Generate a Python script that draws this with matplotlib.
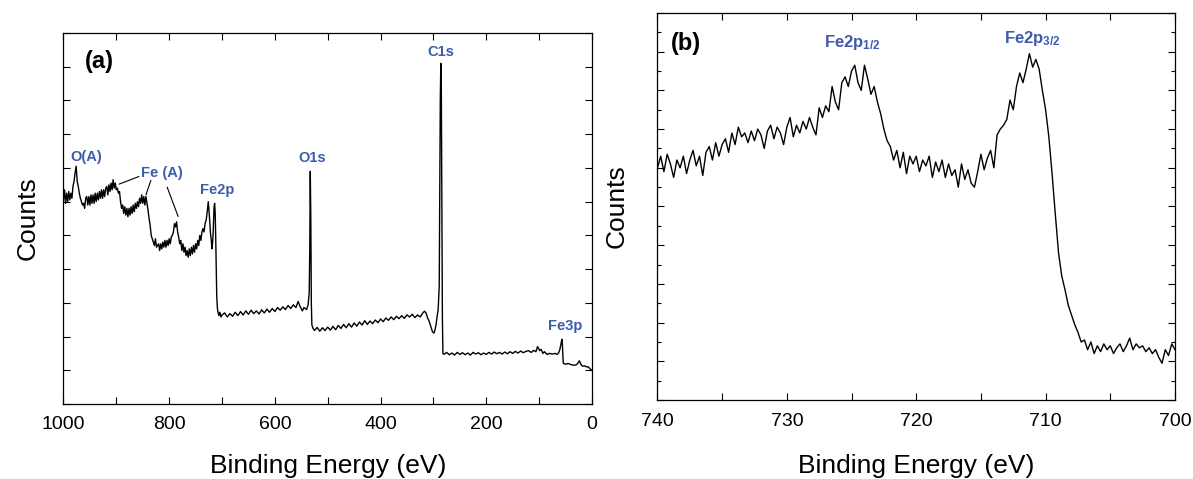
import numpy as np
import matplotlib
matplotlib.use("Agg")
import matplotlib.pyplot as plt
from matplotlib.ticker import MultipleLocator, FuncFormatter

plt.rcParams['font.family'] = ['Liberation Sans', 'DejaVu Sans']
plt.rcParams['mathtext.fontset'] = 'custom'
plt.rcParams['mathtext.rm'] = 'Liberation Sans'
plt.rcParams['mathtext.bf'] = 'Liberation Sans:bold'

# ---------------- Panel (a): survey spectrum ----------------
survey_energy = [
    1000, 998, 996, 994, 992, 990, 988, 986, 984, 982, 980, 978, 976, 974, 972, 970,
    968, 966, 964, 962, 960, 958, 956, 954, 952, 950, 948, 946, 944, 942, 940, 938,
    936, 934, 932, 930, 928, 926, 924, 922, 920, 918, 916, 914, 912, 910, 908, 906,
    904, 902, 900, 898, 896, 894, 892, 890, 888, 886, 884, 882, 880, 878, 876, 874,
    872, 870, 868, 866, 864, 862, 860, 858, 856, 854, 852, 850, 848, 846, 844, 842,
    840, 838, 836, 834, 832, 830, 828, 826, 824, 822, 820, 818, 816, 814, 812, 810,
    808, 806, 804, 802, 800, 798, 796, 794, 792, 790, 788, 786, 784, 782, 780, 778,
    776, 774, 772, 770, 768, 766, 764, 762, 760, 758, 756, 754, 752, 750, 748, 746,
    744, 742, 740, 738, 736, 734, 732, 730, 728, 726, 725, 724, 723, 722, 720, 719,
    718, 717, 716, 715, 714, 713, 712, 711, 710, 709, 708, 706, 704, 702,
    700, 695, 690, 685, 680, 675, 670, 665, 660, 655, 650, 645, 640, 635, 630, 625,
    620, 615, 610, 605, 600, 595, 590, 585, 580, 575, 570, 565, 560, 556, 552, 548,
    545, 540, 537, 535, 534, 533, 532, 531, 530, 528,
    525, 520, 515, 510, 505, 500, 495, 490, 485, 480, 475, 470, 465, 460, 455, 450,
    445, 440, 435, 430, 425, 420, 415, 410, 405, 400, 395, 390, 385, 380, 375, 370,
    365, 360, 355, 350, 345, 340, 335, 330, 325, 320, 317, 314, 311, 308, 305, 302,
    299, 297, 295, 293, 291, 289, 288, 287, 286, 285, 284, 283, 282,
    280, 275, 270, 265, 260, 255, 250, 245, 240, 235, 230, 225, 220, 215, 210, 205,
    200, 195, 190, 185, 180, 175, 170, 165, 160, 155, 150, 145, 140, 135, 130, 125,
    120, 115, 110, 106, 103, 101, 99, 96, 93, 90, 85, 80, 75, 70, 66, 63,
    61, 59, 57, 56, 55, 54, 50, 45, 40, 35, 30, 27, 24, 22, 20, 17,
    14, 10, 7, 4, 2, 0,
]
survey_counts = [
    6.05, 6.35, 5.95, 6.25, 6.00, 6.30, 6.05, 6.25, 6.10, 6.45, 6.60, 6.85, 7.05, 6.60, 6.45, 6.25,
    6.10, 6.00, 5.90, 5.95, 5.80, 6.10, 6.15, 5.90, 6.15, 5.90, 6.20, 5.95, 6.20, 5.95, 6.25, 6.00,
    6.25, 6.05, 6.30, 6.10, 6.35, 6.10, 6.35, 6.15, 6.40, 6.45, 6.20, 6.50, 6.30, 6.55, 6.35, 6.65,
    6.40, 6.55, 6.35, 6.40, 6.25, 6.30, 6.00, 5.80, 5.90, 5.65, 5.85, 5.60, 5.80, 5.55, 5.80, 5.60,
    5.85, 5.65, 5.90, 5.70, 5.95, 5.80, 6.00, 5.85, 6.10, 5.95, 6.20, 5.95, 6.15, 5.90, 6.15, 5.95,
    5.75, 5.50, 5.30, 5.00, 4.90, 4.80, 4.70, 4.90, 4.65, 4.70, 4.75, 4.55, 4.75, 4.60, 4.80, 4.65,
    4.85, 4.65, 4.85, 4.70, 4.90, 4.75, 4.95, 5.00, 5.10, 5.35, 5.25, 5.40, 5.10, 4.95, 4.75, 4.85,
    4.55, 4.75, 4.50, 4.65, 4.40, 4.55, 4.35, 4.60, 4.40, 4.65, 4.45, 4.70, 4.50, 4.75, 4.60, 4.85,
    4.70, 5.00, 4.85, 5.10, 5.20, 5.10, 5.35, 5.45, 5.70, 6.00, 5.80, 5.60, 5.35, 5.10, 4.80, 4.60,
    4.75, 5.00, 5.40, 5.85, 5.95, 5.70, 5.00, 4.00, 3.20, 2.90, 2.75, 2.62, 2.72, 2.58,
    2.64, 2.70, 2.58, 2.68, 2.60, 2.72, 2.62, 2.74, 2.64, 2.76, 2.66, 2.78, 2.68, 2.76, 2.67, 2.79,
    2.70, 2.81, 2.72, 2.83, 2.74, 2.86, 2.78, 2.88, 2.80, 2.92, 2.83, 2.94, 2.86, 3.04, 2.88, 2.76,
    2.86, 2.80, 2.95, 3.30, 4.50, 6.90, 5.50, 3.00, 2.35, 2.25,
    2.18, 2.27, 2.16, 2.26, 2.18, 2.28, 2.19, 2.30, 2.20, 2.33, 2.24, 2.36, 2.26, 2.38, 2.28, 2.40,
    2.31, 2.43, 2.34, 2.47, 2.36, 2.46, 2.38, 2.49, 2.41, 2.52, 2.44, 2.55, 2.48, 2.58, 2.50, 2.60,
    2.53, 2.62, 2.54, 2.64, 2.58, 2.66, 2.56, 2.64, 2.58, 2.70, 2.75, 2.70, 2.55, 2.45, 2.30, 2.15,
    2.10, 2.20, 2.35, 2.60, 2.80, 3.50, 6.00, 9.00, 10.10, 9.20, 6.00, 2.50, 1.50,
    1.47, 1.53, 1.46, 1.51, 1.45, 1.53, 1.47, 1.52, 1.46, 1.51, 1.45, 1.53, 1.48, 1.52, 1.46, 1.51,
    1.47, 1.53, 1.48, 1.54, 1.49, 1.53, 1.48, 1.54, 1.49, 1.55, 1.50, 1.56, 1.51, 1.57, 1.52, 1.56,
    1.58, 1.53, 1.59, 1.55, 1.70, 1.65, 1.58, 1.62, 1.50, 1.55, 1.47, 1.50, 1.48, 1.50, 1.47, 1.52,
    1.60, 1.75, 1.92, 1.80, 1.40, 1.20, 1.18, 1.20, 1.17, 1.15, 1.16, 1.20, 1.28, 1.22, 1.15, 1.12,
    1.13, 1.10, 1.10, 1.05, 1.02, 1.00,
]

# ---------------- Panel (b): Fe2p high resolution ----------------
fe2p_energy = [
    740.00, 739.75, 739.50, 739.25, 739.00, 738.75, 738.50, 738.25,
    738.00, 737.75, 737.50, 737.25, 737.00, 736.75, 736.50, 736.25,
    736.00, 735.75, 735.50, 735.25, 735.00, 734.75, 734.50, 734.25,
    734.00, 733.75, 733.50, 733.25, 733.00, 732.75, 732.50, 732.25,
    732.00, 731.75, 731.50, 731.25, 731.00, 730.75, 730.50, 730.25,
    730.00, 729.75, 729.50, 729.25, 729.00, 728.75, 728.50, 728.25,
    728.00, 727.75, 727.50, 727.25, 727.00, 726.75, 726.50, 726.25,
    726.00, 725.75, 725.50, 725.25, 725.00, 724.75, 724.50, 724.25,
    724.00, 723.75, 723.50, 723.25, 723.00, 722.75, 722.50, 722.25,
    722.00, 721.75, 721.50, 721.25, 721.00, 720.75, 720.50, 720.25,
    720.00, 719.75, 719.50, 719.25, 719.00, 718.75, 718.50, 718.25,
    718.00, 717.75, 717.50, 717.25, 717.00, 716.75, 716.50, 716.25,
    716.00, 715.75, 715.50, 715.25, 715.00, 714.75, 714.50, 714.25,
    714.00, 713.75, 713.50, 713.25, 713.00, 712.75, 712.50, 712.25,
    712.00, 711.75, 711.50, 711.25, 711.00, 710.75, 710.50, 710.25,
    710.00, 709.75, 709.50, 709.25, 709.00, 708.75, 708.50, 708.25,
    708.00, 707.75, 707.50, 707.25, 707.00, 706.75, 706.50, 706.25,
    706.00, 705.75, 705.50, 705.25, 705.00, 704.75, 704.50, 704.25,
    704.00, 703.75, 703.50, 703.25, 703.00, 702.75, 702.50, 702.25,
    702.00, 701.75, 701.50, 701.25, 701.00, 700.75, 700.50, 700.25,
    700.00,
]
fe2p_counts = [
    6.00, 6.30, 5.90, 6.35, 6.10, 5.75, 6.20, 6.00,
    6.30, 5.85, 6.20, 6.45, 6.05, 6.30, 5.80, 6.40,
    6.55, 6.20, 6.65, 6.30, 6.60, 6.75, 6.40, 6.90,
    6.60, 7.05, 6.80, 6.90, 6.65, 6.95, 6.70, 7.00,
    6.85, 6.50, 6.95, 7.10, 6.75, 7.05, 6.90, 6.60,
    7.05, 7.30, 6.80, 7.10, 6.90, 7.20, 7.00, 7.30,
    7.05, 6.85, 7.55, 7.30, 7.60, 7.45, 8.10, 7.70,
    7.50, 8.20, 8.35, 8.10, 8.50, 8.65, 8.20, 8.00,
    8.65, 8.30, 7.90, 8.10, 7.70, 7.40, 7.00, 6.70,
    6.55, 6.20, 6.45, 6.00, 6.40, 5.85, 6.30, 6.10,
    6.30, 5.90, 6.20, 6.05, 6.30, 5.75, 6.15, 5.90,
    6.20, 5.75, 6.10, 5.80, 5.95, 5.50, 6.10, 5.70,
    5.95, 5.60, 5.50, 5.90, 6.35, 5.95, 6.25, 6.45,
    6.00, 6.85, 7.00, 7.10, 7.25, 7.75, 7.50, 8.10,
    8.45, 8.20, 8.55, 8.95, 8.60, 8.80, 8.55, 8.00,
    7.50, 6.80, 5.85, 4.80, 3.80, 3.20, 2.85, 2.45,
    2.20, 1.95, 1.75, 1.50, 1.55, 1.30, 1.50, 1.20,
    1.40, 1.25, 1.45, 1.30, 1.40, 1.20, 1.35, 1.45,
    1.25, 1.40, 1.60, 1.30, 1.45, 1.35, 1.40, 1.25,
    1.35, 1.20, 1.30, 1.10, 0.95, 1.30, 1.15, 1.45,
    1.30,
]

# Peak labels
survey_labels = ["O(A)", "Fe (A)", "Fe2p", "O1s", "C1s", "Fe3p"]
fe2p_labels = [r"$\mathbf{Fe2p_{1/2}}$", r"$\mathbf{Fe2p_{3/2}}$"]

label_blue = "#3F5CAB"

fig = plt.figure(figsize=(11.93, 4.79), dpi=100)
ax1 = fig.add_axes([0.0532, 0.1566, 0.4430, 0.7745])
ax2 = fig.add_axes([0.5511, 0.1649, 0.4338, 0.8080])

# ---- panel a ----
ax1.plot(survey_energy, survey_counts, color="black", lw=1.0)
ax1.set_xlim(1000, 0)
ax1.set_ylim(0, 11)
ax1.xaxis.set_major_locator(MultipleLocator(100))
ax1.xaxis.set_major_formatter(FuncFormatter(lambda v, p: f"{int(round(v))}" if int(round(v)) % 200 == 0 else ""))
ax1.yaxis.set_major_locator(MultipleLocator(1))
ax1.tick_params(axis="both", direction="in", top=True, right=True, length=5, width=0.8, labelsize=14)
ax1.tick_params(axis="y", labelleft=False)
ax1.tick_params(axis="x", pad=9)
ax1.set_xlabel("Binding Energy (eV)", fontsize=19, va="center")
ax1.set_ylabel("Counts", fontsize=19, va="center")
ax1.xaxis.set_label_coords(0.5, -0.167)
ax1.yaxis.set_label_coords(-0.067, 0.5)

ax1.text(933, 10.15, "(a)", fontsize=17, fontweight="bold", ha="center", va="center")
txt_kw = dict(color=label_blue, fontsize=10.5, fontweight="bold", ha="center", va="center")
ax1.text(957, 7.33, survey_labels[0], **txt_kw)
ax1.text(814, 6.86, survey_labels[1], **txt_kw)
ax1.text(710, 6.35, survey_labels[2], **txt_kw)
ax1.text(530, 7.30, survey_labels[3], **txt_kw)
ax1.text(286, 10.45, survey_labels[4], **txt_kw)
ax1.text(51, 2.31, survey_labels[5], **txt_kw)

line_kw = dict(arrowprops=dict(arrowstyle="-", color="black", lw=0.8, shrinkA=0, shrinkB=0))
ax1.annotate("", xy=(894.5, 6.52), xytext=(857.3, 6.745), **line_kw)
ax1.annotate("", xy=(844.0, 6.20), xytext=(834.6, 6.63), **line_kw)
ax1.annotate("", xy=(783.0, 5.56), xytext=(803.8, 6.43), **line_kw)

# ---- panel b ----
ax2.plot(fe2p_energy, fe2p_counts, color="black", lw=1.0)
ax2.set_xlim(740, 700)
ax2.set_ylim(0, 10)
ax2.xaxis.set_major_locator(MultipleLocator(5))
ax2.xaxis.set_major_formatter(FuncFormatter(lambda v, p: f"{int(round(v))}" if int(round(v)) % 10 == 0 else ""))
ax2.yaxis.set_major_locator(MultipleLocator(1))
ax2.yaxis.set_minor_locator(MultipleLocator(0.5))
ax2.tick_params(axis="both", which="major", direction="in", top=True, right=True, length=5, width=0.8, labelsize=14)
ax2.tick_params(axis="y", which="minor", direction="in", right=True, length=3, width=0.8)
ax2.tick_params(axis="y", labelleft=False)
ax2.tick_params(axis="x", pad=9)
ax2.set_xlabel("Binding Energy (eV)", fontsize=19, va="center")
ax2.set_ylabel("Counts", fontsize=19, va="center")
ax2.xaxis.set_label_coords(0.5, -0.17)
ax2.yaxis.set_label_coords(-0.078, 0.5)

ax2.text(737.8, 9.22, "(b)", fontsize=17, fontweight="bold", ha="center", va="center")
ax2.text(724.97, 9.25, fe2p_labels[0], color=label_blue, fontsize=12, ha="center", va="center")
ax2.text(711.0, 9.35, fe2p_labels[1], color=label_blue, fontsize=12, ha="center", va="center")

for ax in (ax1, ax2):
    for s in ax.spines.values():
        s.set_linewidth(0.9)

fig.savefig("out.png", dpi=100)
